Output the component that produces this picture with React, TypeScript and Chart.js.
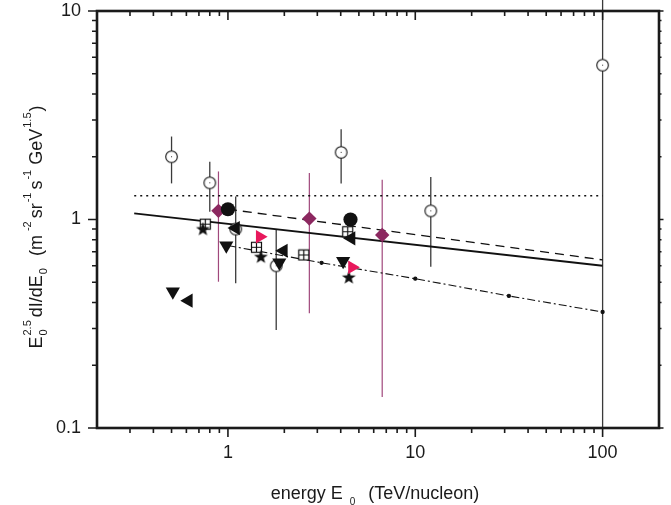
import React, { useEffect, useRef } from "react";
import { Chart, registerables } from "chart.js";
Chart.register(...registerables);

const FONT = "'Liberation Sans', Arial, Helvetica, sans-serif";

// tick labels
const xTickLabels = [1, 10, 100];
const yTickLabels = [0.1, 1, 10];
const xMinorTicks = [0.3, 0.4, 0.5, 0.6, 0.7, 0.8, 0.9, 2, 3, 4, 5, 6, 7, 8, 9, 20, 30, 40, 50, 60, 70, 80, 90];
const yMinorTicks = [0.2, 0.3, 0.4, 0.5, 0.6, 0.7, 0.8, 0.9, 2, 3, 4, 5, 6, 7, 8, 9];

// open circles (with error bars)
const openCircleE = [0.5, 0.8, 4.02, 12.1, 100, 1.1, 1.81];
const openCircleV = [2.0, 1.5, 2.1, 1.1, 5.5, 0.9, 0.6];
const openCircleLo = [1.49, 1.09, 1.49, 0.594, 0.1, 0.494, 0.295];
const openCircleHi = [2.5, 1.89, 2.71, 1.6, 11.3, 1.29, 0.89];

// diamonds (with error bars)
const diamondE = [0.89, 2.72, 6.66];
const diamondV = [1.1, 1.01, 0.843];
const diamondLo = [0.503, 0.355, 0.141];
const diamondHi = [1.7, 1.67, 1.55];

// filled circles
const filledCircleE = [1.0, 4.51];
const filledCircleV = [1.12, 1.0];

// squares with cross
const squareE = [0.757, 1.42, 2.54, 4.36];
const squareV = [0.95, 0.736, 0.676, 0.874];

// stars
const starE = [0.735, 1.5, 4.42];
const starV = [0.9, 0.663, 0.528];

// down triangles
const downTriE = [0.508, 0.98, 1.88, 4.12];
const downTriV = [0.451, 0.749, 0.621, 0.632];

// left triangles
const leftTriE = [0.616, 1.1, 1.98, 4.55];
const leftTriV = [0.408, 0.91, 0.708, 0.812];

// right triangles (pink)
const rightTriE = [1.48, 4.6];
const rightTriV = [0.827, 0.59];

// fit lines
const solidE = [0.316, 100];
const solidV = [1.07, 0.6];
const dashedE = [1, 100];
const dashedV = [1.12, 0.64];
const dottedE = [0.316, 100];
const dottedV = [1.3, 1.3];
const dashDotE = [1, 3.16, 10, 31.6, 100];
const dashDotV = [0.75, 0.62, 0.52, 0.43, 0.36];

const pts = (xs: number[], ys: number[]) => xs.map((x, i) => ({ x, y: ys[i] }));

function makeOpenCircle() {
  const c = document.createElement("canvas");
  c.width = 15; c.height = 15;
  const g = c.getContext("2d")!;
  g.beginPath(); g.arc(7.5, 7.5, 5.8, 0, Math.PI * 2);
  g.fillStyle = "#fff"; g.fill();
  g.lineWidth = 1.1; g.strokeStyle = "#111"; g.stroke();
  g.fillStyle = "#333"; g.fillRect(7, 7, 1, 1);
  return c;
}
function makeSquareCross() {
  const c = document.createElement("canvas");
  c.width = 13; c.height = 13;
  const g = c.getContext("2d")!;
  g.fillStyle = "#fff"; g.fillRect(1.5, 1.5, 10, 10);
  g.lineWidth = 1.2; g.strokeStyle = "#111";
  g.strokeRect(1.5, 1.5, 10, 10);
  g.beginPath(); g.moveTo(6.5, 1.5); g.lineTo(6.5, 11.5); g.moveTo(1.5, 6.5); g.lineTo(11.5, 6.5); g.stroke();
  return c;
}
function makeStar() {
  const c = document.createElement("canvas");
  c.width = 17; c.height = 17;
  const g = c.getContext("2d")!;
  g.beginPath();
  for (let i = 0; i < 10; i++) {
    const r = i % 2 === 0 ? 7.3 : 3.0;
    const a = -Math.PI / 2 + (i * Math.PI) / 5;
    const px = 8.5 + r * Math.cos(a), py = 8.9 + r * Math.sin(a);
    if (i === 0) g.moveTo(px, py); else g.lineTo(px, py);
  }
  g.closePath(); g.fillStyle = "#111"; g.fill();
  return c;
}

type Part = { t?: string; sup?: string; sub?: string; gap?: number };

function drawRich(ctx: CanvasRenderingContext2D, parts: Part[], main: number, small: number, supOff: number, subOff: number) {
  let x = 0;
  for (const p of parts) {
    if (p.gap) { x += p.gap; continue; }
    if (p.t) {
      ctx.font = `${main}px ${FONT}`;
      ctx.fillText(p.t, x, 0);
      x += ctx.measureText(p.t).width;
    } else {
      ctx.font = `${small}px ${FONT}`;
      let w = 0;
      if (p.sup) { ctx.fillText(p.sup, x, -supOff); w = Math.max(w, ctx.measureText(p.sup).width); }
      if (p.sub) { ctx.fillText(p.sub, x, subOff); w = Math.max(w, ctx.measureText(p.sub).width); }
      x += w;
    }
  }
  return x;
}
function measureRich(ctx: CanvasRenderingContext2D, parts: Part[], main: number, small: number) {
  let x = 0;
  for (const p of parts) {
    if (p.gap) { x += p.gap; continue; }
    if (p.t) { ctx.font = `${main}px ${FONT}`; x += ctx.measureText(p.t).width; }
    else {
      ctx.font = `${small}px ${FONT}`;
      x += Math.max(p.sup ? ctx.measureText(p.sup).width : 0, p.sub ? ctx.measureText(p.sub).width : 0);
    }
  }
  return x;
}

const xTitleParts: Part[] = [{ t: "energy E" }, { gap: 7 }, { sub: "0" }, { gap: 13 }, { t: "(TeV/nucleon)" }];
const yTitleParts: Part[] = [
  { t: "E" }, { gap: 1 }, { sup: "2.5", sub: "0" }, { gap: 3 }, { t: "dI/dE" }, { gap: 1 }, { sub: "0" }, { gap: 12 }, { t: "(m" }, { gap: 4 }, { sup: "-2" },
  { gap: 3 }, { t: "sr" }, { gap: 1 }, { sup: "-1" }, { gap: 3 }, { t: "s" }, { gap: 1 }, { sup: "-1" }, { gap: 5 }, { t: "GeV" }, { gap: 1 }, { sup: "1.5" }, { gap: 1 }, { t: ")" },
];

const errorBarPlugin = {
  id: "errorBars",
  beforeDatasetsDraw(chart: any) {
    const ctx = chart.ctx;
    const xs = chart.scales.x, ys = chart.scales.y;
    chart.data.datasets.forEach((ds: any) => {
      if (!ds.errLo) return;
      ctx.save();
      ctx.strokeStyle = ds.errColor;
      ctx.lineWidth = ds.errWidth;
      ds.data.forEach((p: any, j: number) => {
        const px = xs.getPixelForValue(p.x);
        ctx.beginPath();
        ctx.moveTo(px, ys.getPixelForValue(ds.errLo[j]));
        ctx.lineTo(px, ys.getPixelForValue(ds.errHi[j]));
        ctx.stroke();
      });
      ctx.restore();
    });
  },
};

const framePlugin = {
  id: "frame",
  afterDraw(chart: any) {
    const ctx = chart.ctx;
    const { left, right, top, bottom } = chart.chartArea;
    const xs = chart.scales.x, ys = chart.scales.y;
    ctx.save();
    ctx.strokeStyle = "#1a1a1a";
    ctx.lineWidth = 1.6;
    ctx.lineCap = "butt";
    const xt = (v: number, len: number) => {
      const px = xs.getPixelForValue(v);
      ctx.beginPath();
      ctx.moveTo(px, bottom); ctx.lineTo(px, bottom + len);
      ctx.moveTo(px, top); ctx.lineTo(px, top + len);
      ctx.stroke();
    };
    xMinorTicks.forEach((v) => xt(v, 5));
    xTickLabels.forEach((v) => xt(v, 9));
    const yt = (v: number, len: number) => {
      const py = ys.getPixelForValue(v);
      ctx.beginPath();
      ctx.moveTo(left, py); ctx.lineTo(left - len, py);
      ctx.moveTo(right, py); ctx.lineTo(right + len * 0.5, py);
      ctx.stroke();
    };
    yMinorTicks.forEach((v) => yt(v, 5));
    yTickLabels.forEach((v) => yt(v, 9));
    ctx.lineWidth = 2.6;
    ctx.strokeRect(left, top, right - left, bottom - top);

    ctx.fillStyle = "#1a1a1a";
    ctx.textBaseline = "alphabetic";
    const wx = measureRich(ctx, xTitleParts, 18, 10);
    ctx.save();
    ctx.translate(375 - wx / 2, 499);
    drawRich(ctx, xTitleParts, 18, 10, 7, 6);
    ctx.restore();

    const wy = measureRich(ctx, yTitleParts, 18, 11);
    ctx.save();
    ctx.translate(42, 227 + wy / 2);
    ctx.rotate(-Math.PI / 2);
    drawRich(ctx, yTitleParts, 18, 11, 11, 5);
    ctx.restore();
    ctx.restore();
  },
};

export default function App() {
  const ref = useRef<HTMLCanvasElement>(null);
  useEffect(() => {
    const openCircle = makeOpenCircle();
    const squareCross = makeSquareCross();
    const star = makeStar();
    const PINK = "#e8185c";
    const PURPLE = "#8c2860";
    const chart = new Chart(ref.current!, {
      type: "scatter",
      data: {
        datasets: [
          { label: "open", data: pts(openCircleE, openCircleV), pointStyle: openCircle as any, pointRadius: 6, errLo: openCircleLo, errHi: openCircleHi, errColor: "#3a3a3a", errWidth: 1.3, order: 9 } as any,
          { label: "diamond", data: pts(diamondE, diamondV), pointStyle: "rectRot", pointRadius: 7.2, backgroundColor: PURPLE, borderColor: PURPLE, borderWidth: 0, errLo: diamondLo, errHi: diamondHi, errColor: "#a0487c", errWidth: 1.2, order: 8 } as any,
          { label: "filled", data: pts(filledCircleE, filledCircleV), pointStyle: "circle", pointRadius: 7.1, backgroundColor: "#111", borderColor: "#111", borderWidth: 0, order: 7 },
          { label: "square", data: pts(squareE, squareV), pointStyle: squareCross as any, pointRadius: 6, order: 6 },
          { label: "star", data: pts(starE, starV), pointStyle: star as any, pointRadius: 6, order: 5 },
          { label: "down", data: pts(downTriE, downTriV), pointStyle: "triangle", rotation: 180, pointRadius: 8.2, backgroundColor: "#111", borderColor: "#111", borderWidth: 0, order: 4 },
          { label: "left", data: pts(leftTriE, leftTriV), pointStyle: "triangle", rotation: -90, pointRadius: 8.2, backgroundColor: "#111", borderColor: "#111", borderWidth: 0, order: 3 },
          { label: "right", data: pts(rightTriE, rightTriV), pointStyle: "triangle", rotation: 90, pointRadius: 7.8, backgroundColor: PINK, borderColor: PINK, borderWidth: 0, order: 2 },
          { label: "solid", data: pts(solidE, solidV), showLine: true, pointRadius: 0, borderColor: "#111", borderWidth: 2, order: 20 },
          { label: "dashed", data: pts(dashedE, dashedV), showLine: true, pointRadius: 0, borderColor: "#111", borderWidth: 1.3, borderDash: [9, 6], order: 21 },
          { label: "dotted", data: pts(dottedE, dottedV), showLine: true, pointRadius: 0, borderColor: "#111", borderWidth: 1.3, borderDash: [2, 4], order: 22 },
          { label: "dashdot", data: pts(dashDotE, dashDotV), showLine: true, pointRadius: 1.6, pointStyle: "circle", backgroundColor: "#111", borderColor: "#111", borderWidth: 1.1, borderDash: [8, 3, 2, 3], order: 23 },
        ],
      },
      options: {
        animation: false,
        responsive: true,
        maintainAspectRatio: false,
        layout: { padding: { top: 11, right: 12, left: 0, bottom: 0 } },
        plugins: { legend: { display: false }, tooltip: { enabled: false } },
        scales: {
          x: {
            type: "logarithmic", min: 0.2, max: 200, position: "bottom",
            grid: { display: false, drawTicks: false }, border: { display: false },
            ticks: { font: { size: 18, family: FONT }, color: "#1a1a1a", padding: 14, maxRotation: 0, autoSkip: false, callback: (v: any) => String(v) },
            afterBuildTicks: (s: any) => { s.ticks = xTickLabels.map((v) => ({ value: v })); },
            afterFit: (s: any) => { s.height = 77; s.paddingLeft = 0; s.paddingRight = 0; },
          },
          y: {
            type: "logarithmic", min: 0.1, max: 10, position: "left",
            grid: { display: false, drawTicks: false }, border: { display: false },
            ticks: { font: { size: 18, family: FONT }, color: "#1a1a1a", padding: 16, autoSkip: false, callback: (v: any) => String(v) },
            afterBuildTicks: (s: any) => { s.ticks = yTickLabels.map((v) => ({ value: v })); },
            afterFit: (s: any) => { s.width = 97; s.paddingTop = 0; s.paddingBottom = 0; },
          },
        },
      } as any,
      plugins: [errorBarPlugin, framePlugin],
    });
    return () => chart.destroy();
  }, []);
  return (
    <div style={{ position: "fixed", left: 0, top: 0, width: 671, height: 505, background: "#fff" }}>
      <canvas ref={ref} />
    </div>
  );
}
